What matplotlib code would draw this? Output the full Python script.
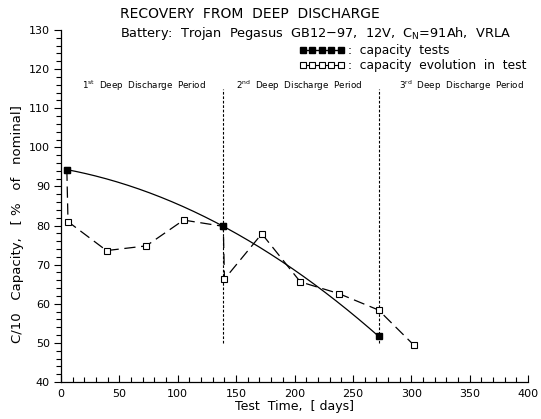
import numpy as np
import matplotlib
matplotlib.use("Agg")
import matplotlib.pyplot as plt
from matplotlib.lines import Line2D
from matplotlib.ticker import MultipleLocator

# Capacity tests at the end of each deep discharge period
test_days = [5, 139, 272]
test_capacity = [94.3, 79.8, 51.7]

# Capacity evolution during the test
evol_days = [5, 6, 39, 73, 105, 139, 140, 172, 205, 238, 272, 302]
evol_capacity = [94.3, 81.0, 73.6, 74.8, 81.4, 79.8, 66.3, 77.9, 65.6, 62.6, 58.4, 49.5]

# Period boundaries and period labels
period_bounds = [139, 272]
period_labels = ["1$^{\\mathrm{st}}$  Deep  Discharge  Period",
                 "2$^{\\mathrm{nd}}$  Deep  Discharge  Period",
                 "3$^{\\mathrm{rd}}$  Deep  Discharge  Period"]
period_label_x = [71, 204, 343]

plt.rcParams['font.family'] = ['DejaVu Sans']
plt.rcParams['mathtext.fontset'] = 'dejavusans'

fig = plt.figure(figsize=(5.41, 4.19), dpi=100)
ax = fig.add_axes([61 / 541, 1 - 382 / 419, 467 / 541, 352 / 419])

# Smooth trend through the capacity tests
coef = np.polyfit(test_days, test_capacity, 2)
xs = np.linspace(test_days[0], test_days[-1], 200)
ax.plot(xs, np.polyval(coef, xs), color='k', lw=0.9, zorder=3)

ax.plot(evol_days, evol_capacity, color='k', lw=0.9, dashes=(9, 4.5),
        marker='s', markersize=5, markerfacecolor='white',
        markeredgecolor='k', markeredgewidth=0.8, zorder=4)
ax.plot(test_days, test_capacity, linestyle='none', marker='s', markersize=5,
        color='k', zorder=5)

for xb in period_bounds:
    ax.plot([xb, xb], [50, 115], color='k', lw=0.8, dashes=(2.4, 1.6), zorder=2)

for lbl, xl in zip(period_labels, period_label_x):
    ax.text(xl, 115.7, lbl, fontsize=6.3, ha='center', va='center')

ax.set_xlim(0, 400)
ax.set_ylim(40, 130)
ax.xaxis.set_major_locator(MultipleLocator(50))
ax.xaxis.set_minor_locator(MultipleLocator(10))
ax.yaxis.set_major_locator(MultipleLocator(10))
ax.yaxis.set_minor_locator(MultipleLocator(2))
for s in ['top', 'right']:
    ax.spines[s].set_visible(False)
for s in ['left', 'bottom']:
    ax.spines[s].set_linewidth(0.9)

ax.tick_params(axis='x', which='both', direction='in', labelsize=8, pad=5)
ax.tick_params(axis='x', which='major', length=5, width=0.8)
ax.tick_params(axis='x', which='minor', length=3.5, width=0.8)
ax.tick_params(axis='y', which='both', direction='out', labelsize=8, pad=3)
ax.tick_params(axis='y', which='major', length=5, width=0.8)
ax.tick_params(axis='y', which='minor', length=3.5, width=0.8)

ax.set_xlabel("Test  Time,  [ days]", fontsize=9, labelpad=1)
ax.set_ylabel("C/10   Capacity,   [ %   of   nominal]", fontsize=9.5)
ax.yaxis.set_label_coords(-0.08, (382 - 224) / 352)

fig.text(120 / 541, 1 - 14 / 419, "RECOVERY  FROM  DEEP  DISCHARGE",
         fontsize=10, ha='left', va='center')
fig.text(120 / 541, 1 - 33 / 419,
         "Battery:  Trojan  Pegasus  GB12\u221297,  12V,  C$_\\mathrm{N}$=91Ah,  VRLA",
         fontsize=9.3, ha='left', va='center')

handles = [
    Line2D([], [], color='k', lw=1, marker='s', markersize=4,
           markerfacecolor='k', markeredgecolor='k'),
    Line2D([], [], color='k', lw=0.8, marker='s', markersize=4,
           markerfacecolor='white', markeredgecolor='k', markeredgewidth=0.8),
]
fig.legend(handles, [":  capacity  tests", ":  capacity  evolution  in  test"],
           loc='upper left', bbox_to_anchor=(299 / 541, 1 - 44 / 419),
           bbox_transform=fig.transFigure, frameon=False, fontsize=8.8,
           numpoints=5, handlelength=3.7, handletextpad=0.3,
           labelspacing=0.2, borderpad=0, borderaxespad=0)

fig.savefig("out.png", dpi=100)
